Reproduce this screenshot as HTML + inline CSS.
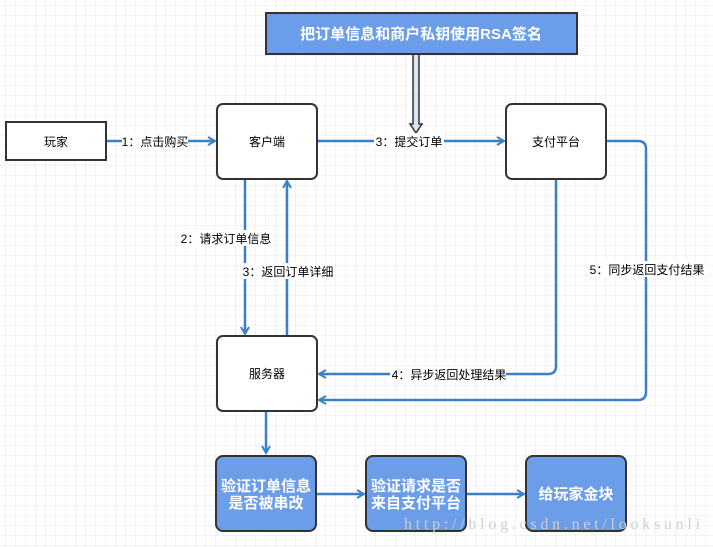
<!DOCTYPE html>
<html><head><meta charset="utf-8"><style>
html,body{margin:0;padding:0;background:#fff}
svg{display:block}
text{font-family:"Liberation Sans","Noto Sans CJK SC",sans-serif}
</style></head><body>
<svg width="713" height="547" viewBox="0 0 713 547" xmlns="http://www.w3.org/2000/svg">
<defs>
<pattern id="g" x="5" y="5" width="10" height="10" patternUnits="userSpaceOnUse">
<path d="M0 0H10M0 0V10" stroke="#e4e4f8" stroke-width="1" fill="none"/>
</pattern>
<marker id="a" markerWidth="10" markerHeight="10" refX="8" refY="5" orient="auto" markerUnits="userSpaceOnUse">
<path d="M1 1L8 5L1 9" fill="none" stroke="#3a80c8" stroke-width="2"/>
</marker>
</defs>
<rect width="713" height="547" fill="url(#g)"/>
<g stroke="#3a80c8" stroke-width="2.5" fill="none" marker-end="url(#a)">
<path d="M106 141H215"/>
<path d="M317 141H504"/>
<path d="M245 179V334"/>
<path d="M287 335V181"/>
<path d="M556 179V366Q556 374 548 374H319"/>
<path d="M606 141H638Q646 141 646 149V392Q646 400 638 400H319"/>
<path d="M266 411V453"/>
<path d="M316 494H364"/>
<path d="M466 494H524"/>
</g>
<path d="M413 54V124H410L416 133L422 124H419V54Z" fill="#dde3f0" stroke="#333" stroke-width="1.5"/>
<rect x="266" y="13" width="311" height="41" fill="#6b9de8" stroke="#333" stroke-width="2"/>
<text x="421" y="39" font-size="15" font-weight="bold" fill="#fff" text-anchor="middle">把订单信息和商户私钥使用RSA签名</text>
<rect x="6" y="122" width="100" height="38" fill="#fff" stroke="#333" stroke-width="2"/>
<text x="56" y="146" font-size="12" text-anchor="middle">玩家</text>
<rect x="217" y="104" width="100" height="75" rx="6" fill="#fff" stroke="#333" stroke-width="2"/>
<text x="267" y="146" font-size="12" text-anchor="middle">客户端</text>
<rect x="506" y="104" width="100" height="75" rx="6" fill="#fff" stroke="#333" stroke-width="2"/>
<text x="556" y="146" font-size="12" text-anchor="middle">支付平台</text>
<rect x="217" y="336" width="100" height="75" rx="6" fill="#fff" stroke="#333" stroke-width="2"/>
<text x="267" y="378" font-size="12" text-anchor="middle">服务器</text>
<g font-size="12" text-anchor="middle">
<rect x="122" y="133" width="66" height="16" fill="#fff"/><text x="155" y="146">1：点击购买</text>
<rect x="374" y="133" width="70" height="16" fill="#fff"/><text x="409" y="146">3：提交订单</text>
<rect x="180" y="230" width="94" height="16" fill="#fff"/><text x="226" y="243">2：请求订单信息</text>
<rect x="241" y="263" width="94" height="16" fill="#fff"/><text x="288" y="276">3：返回订单详细</text>
<rect x="590" y="261" width="116" height="16" fill="#fff"/><text x="647" y="274">5：同步返回支付结果</text>
<rect x="390" y="366" width="116" height="16" fill="#fff"/><text x="449" y="379">4：异步返回处理结果</text>
</g>
<g stroke="#333" stroke-width="2" fill="#6b9de8">
<rect x="216" y="456" width="100" height="75" rx="7"/>
<rect x="366" y="456" width="100" height="75" rx="7"/>
<rect x="526" y="456" width="100" height="75" rx="7"/>
</g>
<g font-size="15" font-weight="bold" fill="#fff" text-anchor="middle">
<text x="266" y="491">验证订单信息</text><text x="266" y="508">是否被串改</text>
<text x="416" y="491">验证请求是否</text><text x="416" y="508">来自支付平台</text>
<text x="576" y="499">给玩家金块</text>
</g>
<text x="404" y="529" font-size="16" fill="#cfcfcf" style="font-family:'Liberation Serif',serif" textLength="296">http://blog.csdn.net/looksunli</text>
</svg>
</body></html>
